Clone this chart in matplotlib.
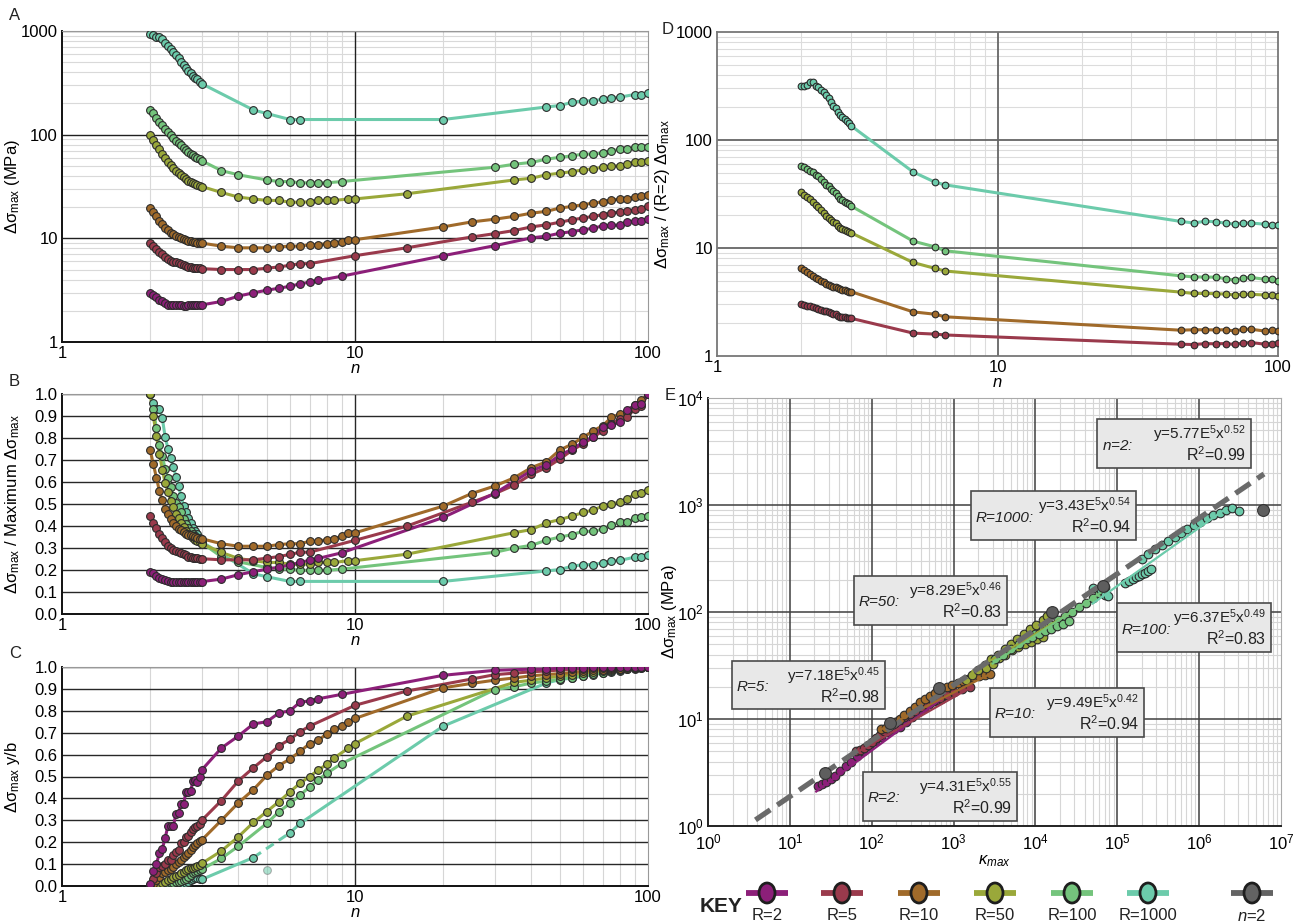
import numpy as np
import matplotlib
matplotlib.use("Agg")
import matplotlib.pyplot as plt
from matplotlib.patches import Rectangle, Ellipse
from matplotlib.ticker import LogLocator, NullFormatter, LogFormatterMathtext

plt.rcParams['font.family'] = ['Liberation Sans', 'DejaVu Sans']
plt.rcParams['mathtext.fontset'] = 'custom'
plt.rcParams['mathtext.rm'] = 'Liberation Sans'
plt.rcParams['mathtext.it'] = 'Liberation Sans:italic'
plt.rcParams['mathtext.bf'] = 'Liberation Sans:bold'

W, H = 1303, 924

SERIES = ['R=2', 'R=5', 'R=10', 'R=50', 'R=100', 'R=1000']
COLORS = ['#8c1f79', '#9a3a4c', '#a06a2a', '#9aa83a', '#74c47c', '#6ccbab']
GREY = '#5e5e5e'

# dense sampling 2 <= n <= 3 (shared by every series)
DENSE_N = [2.0, 2.05, 2.1, 2.15, 2.2, 2.25, 2.3, 2.35, 2.4, 2.45, 2.5,
           2.55, 2.6, 2.65, 2.7, 2.75, 2.8, 2.85, 2.9, 2.95, 3.0]

# ---- panel A : delta sigma max (MPa) ----
A_DENSE_R2 = [2.98, 2.86, 2.70, 2.56, 2.46, 2.38, 2.30, 2.28, 2.27, 2.26, 2.26,
              2.25, 2.24, 2.22, 2.25, 2.27, 2.27, 2.27, 2.27, 2.28, 2.28]
A_DENSE_R5 = [9.0, 8.4, 7.9, 7.4, 7.0, 6.6, 6.3, 6.05, 5.95, 5.85, 5.75,
              5.65, 5.5, 5.4, 5.3, 5.25, 5.2, 5.18, 5.15, 5.12, 5.1]
A_DENSE_R10 = [19.6, 17.9, 16.3, 14.7, 13.6, 12.6, 12.0, 11.3, 10.9, 10.5, 10.2,
               10.0, 9.8, 9.6, 9.5, 9.4, 9.3, 9.2, 9.1, 9.0, 9.0]
A_DENSE_R50 = [99, 89, 80, 72, 65, 59, 55, 51, 48, 45, 43,
               41, 39, 37.5, 36, 35, 34.3, 33.5, 32.8, 32.2, 31.6]
A_DENSE_R100 = [173, 161, 146, 133, 124, 114, 107, 100, 93, 87, 84,
                80, 75, 71, 68, 65, 63, 61, 59, 58, 56]
A_DENSE_R1000 = [945, 905, 880, 880, 840, 760, 710, 668, 630, 590, 548,
                 505, 465, 440, 412, 390, 368, 355, 342, 325, 310]

N_R2 = [3.5, 4, 4.5, 5, 5.5, 6, 6.5, 7, 7.5, 9, 20, 30, 40, 45, 50, 55, 60,
        65, 70, 75, 80, 85, 90, 95, 100]
A_R2 = [2.46, 2.77, 2.98, 3.16, 3.3, 3.45, 3.64, 3.78, 3.92, 4.31, 6.8, 8.5,
        10.1, 10.5, 11.2, 11.6, 12.1, 12.5, 13.2, 13.3, 13.5, 14.4, 14.7, 14.8, 15.5]
N_R5 = [3.5, 4, 4.5, 5, 5.5, 6, 6.5, 7, 10, 15, 25, 30, 35, 40, 45, 50, 55,
        60, 65, 70, 75, 80, 85, 90, 95, 100]
A_R5 = [5.0, 5.0, 5.0, 5.15, 5.3, 5.5, 5.7, 5.7, 6.8, 8.1, 10.3, 11.1, 11.9,
        12.9, 13.5, 14.3, 15.1, 15.7, 16.3, 16.9, 17.5, 18.0, 18.2, 18.9, 19.2, 20.3]
N_R10 = [3.5, 4, 4.5, 5, 5.5, 6, 6.5, 7, 7.5, 8, 8.5, 9, 9.5, 10, 20, 25, 30,
         35, 40, 45, 50, 55, 60, 65, 70, 75, 80, 85, 90, 95, 100]
A_R10 = [8.4, 8.1, 8.1, 8.1, 8.3, 8.4, 8.4, 8.7, 8.7, 8.9, 9.0, 9.3, 9.7, 9.7,
         12.9, 14.4, 15.3, 16.3, 17.5, 18.2, 19.6, 20.3, 21.1, 21.9, 22.5, 23.5,
         23.9, 24.2, 25.0, 25.6, 26.3]
N_R50 = [3.5, 4, 4.5, 5, 5.5, 6, 6.5, 7, 7.5, 8, 8.5, 9.5, 10, 15, 35, 40, 45,
         50, 55, 60, 65, 70, 75, 80, 85, 90, 95, 100]
A_R50 = [27.7, 25, 24, 23.2, 23.2, 22.3, 22.3, 22.5, 23.2, 23.2, 23.2, 24, 24,
         26.9, 36.6, 38, 41, 42.5, 44, 45.7, 46.8, 48.5, 49.6, 50.3, 51.9, 54,
         54.5, 56]
N_R100 = [3.5, 4, 5, 5.5, 6, 6.5, 7, 7.5, 8, 9, 30, 35, 40, 45, 50, 55, 60,
          65, 70, 75, 80, 85, 90, 95, 100]
A_R100 = [45, 41, 36.6, 35.3, 35.3, 34.3, 34.3, 34.3, 34.3, 35.3, 48.5, 51.9,
          54, 58, 60.5, 62.4, 65, 65, 66.7, 70, 72, 72, 75.5, 76, 76.7]
N_R1000 = [4.5, 5, 6, 6.5, 20, 45, 50, 55, 60, 65, 70, 75, 80, 90, 95, 100]
A_R1000 = [173, 160, 140, 140, 140, 185, 191, 205, 212, 212, 220, 227, 230,
           244, 244, 253]

# ---- panel C : delta sigma max y/b ----
C_DENSE_R2 = [0.01, 0.07, 0.10, 0.15, 0.17, 0.22, 0.275, 0.275, 0.275, 0.33, 0.335,
              0.375, 0.375, 0.43, 0.43, 0.435, 0.48, 0.485, 0.475, 0.50, 0.53]
C_DENSE_R5 = [0.005, 0.03, 0.06, 0.085, 0.09, 0.10, 0.12, 0.12, 0.14, 0.155, 0.165,
              0.195, 0.20, 0.225, 0.23, 0.245, 0.26, 0.27, 0.275, 0.285, 0.30]
C_DENSE_R10 = [0.0, 0.01, 0.027, 0.043, 0.058, 0.065, 0.073, 0.078, 0.085, 0.10, 0.108,
               0.118, 0.134, 0.141, 0.149, 0.164, 0.176, 0.187, 0.195, 0.205, 0.21]
C_DENSE_R50 = [0.0, 0.0, 0.002, 0.005, 0.012, 0.02, 0.027, 0.03, 0.04, 0.046, 0.05,
               0.058, 0.065, 0.073, 0.076, 0.08, 0.084, 0.088, 0.092, 0.098, 0.103]
C_DENSE_R100 = [0.0, 0.0, 0.0, 0.0, 0.002, 0.005, 0.008, 0.012, 0.015, 0.018, 0.02,
                0.024, 0.027, 0.03, 0.04, 0.05, 0.06, 0.065, 0.07, 0.073, 0.076]
C_DENSE_R1000 = [0.0, 0.0, 0.0, 0.0, 0.0, 0.0, 0.0, 0.0, 0.0, 0.0, 0.0,
                 0.0, 0.005, 0.012, 0.02, 0.027, 0.03, 0.035, 0.035, 0.033, 0.03]

C_R2 = [0.63, 0.685, 0.74, 0.75, 0.79, 0.80, 0.84, 0.845, 0.855, 0.875, 0.962,
        0.985, 0.99, 0.99, 0.995, 0.995, 0.995, 1.0, 1.0, 1.0, 1.0, 1.0, 1.0, 1.0, 1.0]
C_R5 = [0.39, 0.48, 0.54, 0.59, 0.64, 0.67, 0.705, 0.73, 0.825, 0.89, 0.945,
        0.965, 0.972, 0.978, 0.982, 0.986, 0.99, 0.992, 0.994, 0.996, 0.997,
        0.998, 0.999, 1.0, 1.0, 1.0]
C_R10 = [0.30, 0.38, 0.44, 0.505, 0.55, 0.58, 0.615, 0.65, 0.665, 0.695, 0.715,
         0.73, 0.75, 0.765, 0.905, 0.925, 0.94, 0.95, 0.96, 0.965, 0.97, 0.975,
         0.98, 0.985, 0.988, 0.99, 0.993, 0.995, 0.997, 0.999, 1.0]
C_R50 = [0.16, 0.225, 0.29, 0.34, 0.385, 0.43, 0.47, 0.50, 0.53, 0.555, 0.585,
         0.63, 0.65, 0.775, 0.93, 0.94, 0.95, 0.958, 0.965, 0.972, 0.978, 0.983,
         0.987, 0.99, 0.993, 0.996, 0.998, 1.0]
C_R100 = [0.126, 0.182, 0.286, 0.339, 0.377, 0.415, 0.453, 0.486, 0.514, 0.559,
          0.897, 0.91, 0.927, 0.935, 0.945, 0.952, 0.96, 0.967, 0.973, 0.98,
          0.985, 0.99, 0.994, 0.997, 1.0]
C_R1000 = [0.13, 0.073, 0.243, 0.286, 0.73, 0.927, 0.942, 0.95, 0.958, 0.965,
           0.972, 0.978, 0.984, 0.993, 0.997, 1.0]
C_OUTLIER_N = 5  # faded R=1000 point in panel C

# panel D uses only the n where R=2 was also sampled at the same step
D_N = DENSE_N + [5, 6, 6.5, 45, 50, 55, 60, 65, 70, 75, 80, 90, 95, 100]

# ---- panel E : delta sigma max vs kappa max ----
E_K_R2 = [22, 25, 28, 32, 36, 41, 48, 56, 66, 78, 92, 110, 130, 155, 185, 220,
          260, 310, 370, 430, 500, 580, 650, 710]
E_S_R2 = [2.35, 2.45, 2.6, 2.75, 2.95, 3.3, 3.65, 4.0, 4.5, 5.0, 5.6, 6.2, 6.8,
          7.5, 8.0, 8.5, 9.4, 10.4, 11.6, 12.8, 13.9, 14.6, 15.1, 15.5]
E_K_R5 = [65, 72, 80, 90, 100, 112, 125, 140, 160, 185, 215, 250, 290, 340, 400,
          470, 560, 680, 820, 1000, 1250, 1580]
E_S_R5 = [5.0, 5.1, 5.4, 5.7, 6.1, 6.6, 7.1, 7.7, 8.3, 9.0, 9.8, 10.5, 11.2,
          12.0, 12.9, 13.9, 14.8, 15.7, 16.8, 17.8, 18.9, 20.0]
E_K_R10 = [130, 150, 170, 195, 220, 250, 290, 340, 390, 450, 520, 600, 700, 820,
           960, 1120, 1300, 1500, 1750, 2050, 2400, 2750]
E_S_R10 = [8.0, 8.3, 8.8, 9.4, 10.0, 10.8, 11.8, 13.0, 14.3, 15.4, 16.5, 17.5,
           18.6, 19.7, 20.8, 21.8, 22.8, 23.7, 24.5, 25.2, 25.9, 26.5]
E_K_R50 = [1400, 1700, 2000, 2400, 2900, 3500, 4200, 5000, 6000, 7200, 8600,
           10300, 12300, 14000, 2500, 3000, 3600, 4300, 5200, 6200, 7400, 8800,
           10500, 12500]
E_S_R50 = [23, 26, 29, 32, 36, 40, 45, 50, 56, 62, 69, 76, 84, 92, 30, 33, 37,
           40, 44, 47, 50, 53, 56, 59]
E_K_R100 = [3200, 4000, 5000, 6300, 8000, 10000, 12500, 15500, 19000, 23000,
            28000, 34000, 41000, 50000, 60000, 70000, 9000, 11000, 13000, 15500,
            18500, 22000, 26000]
E_S_R100 = [36, 40, 45, 50, 56, 62, 69, 76, 84, 92, 101, 111, 122, 135, 152, 170,
            58, 62, 66, 70, 74, 78, 82]
E_K_R1000 = [200000, 240000, 290000, 350000, 420000, 500000, 600000, 720000,
             860000, 1030000, 1230000, 1480000, 1780000, 2100000, 2500000,
             3100000, 125000, 140000, 155000, 170000, 185000, 200000, 220000,
             240000, 260000, 50000, 64000, 70000, 78000]
E_S_R1000 = [315, 350, 385, 420, 460, 505, 550, 600, 650, 700, 750, 800, 850,
             900, 930, 870, 188, 195, 205, 212, 218, 225, 232, 242, 254, 166, 160,
             145, 140]
# n = 2 points and its power-law fit
E_K_N2 = [27, 168, 660, 16000, 66000, 6.0e6]
E_S_N2 = [3.1, 9.2, 19.6, 100, 176, 900]
E_FIT_N2_K = [3.8, 6.2e6]
E_FIT_N2_S = [1.14, 1950]
# per-R fit lines (end points)
E_FIT_K = [[21, 680], [70, 1580], [130, 2700], [1700, 26000], [3000, 70000], [50000, 2.15e6]]
E_FIT_S = [[2.1, 15], [5.0, 19.5], [8.0, 26], [28, 97], [33, 160], [120, 930]]

BOX_LABELS = [r'$n$=2:', 'R=1000:', 'R=50:', 'R=100:', 'R=5:', 'R=10:', 'R=2:']
BOX_EQS = [r'y=5.77E$^5$x$^{0.52}$', r'y=3.43E$^5$x$^{0.54}$', r'y=8.29E$^5$x$^{0.46}$',
           r'y=6.37E$^5$x$^{0.49}$', r'y=7.18E$^5$x$^{0.45}$', r'y=9.49E$^5$x$^{0.42}$',
           r'y=4.31E$^5$x$^{0.55}$']
BOX_R2 = ['0.99', '0.94', '0.83', '0.83', '0.98', '0.94', '0.99']

a_dense = [A_DENSE_R2, A_DENSE_R5, A_DENSE_R10, A_DENSE_R50, A_DENSE_R100, A_DENSE_R1000]
a_sparse = [A_R2, A_R5, A_R10, A_R50, A_R100, A_R1000]
n_sparse = [N_R2, N_R5, N_R10, N_R50, N_R100, N_R1000]
c_dense = [C_DENSE_R2, C_DENSE_R5, C_DENSE_R10, C_DENSE_R50, C_DENSE_R100, C_DENSE_R1000]
c_sparse = [C_R2, C_R5, C_R10, C_R50, C_R100, C_R1000]
e_k = [E_K_R2, E_K_R5, E_K_R10, E_K_R50, E_K_R100, E_K_R1000]
e_s = [E_S_R2, E_S_R5, E_S_R10, E_S_R50, E_S_R100, E_S_R1000]

n_all = [np.array(DENSE_N + ns) for ns in n_sparse]
a_all = [np.array(d + s) for d, s in zip(a_dense, a_sparse)]
c_all = [np.array(d + s) for d, s in zip(c_dense, c_sparse)]

FS = 12


def axes_px(left, top, right, bottom):
    return fig.add_axes([left / W, 1 - bottom / H, (right - left) / W, (bottom - top) / H])


def major_lines(ax, xs=(), ys=(), color='#202020', lw=1.0):
    # drawn as artists so the light minor grid never cuts through them
    for x in xs:
        ax.axvline(x, color=color, lw=lw, zorder=1)
    for y in ys:
        ax.axhline(y, color=color, lw=lw, zorder=1)


def n_axis(ax):
    ax.set_xscale('log')
    ax.set_xlim(1, 100)
    ax.set_xticks([1, 10, 100])
    ax.set_xticklabels(['1', '10', '100'])
    ax.xaxis.set_minor_locator(LogLocator(base=10, subs=np.arange(2, 10)))
    ax.xaxis.set_minor_formatter(NullFormatter())
    ax.tick_params(which='both', length=0, labelsize=FS, pad=3)
    ax.set_xlabel('n', style='italic', fontsize=FS, labelpad=0)
    ax.set_axisbelow(True)


def log_y(ax):
    ax.set_yscale('log')
    ax.set_ylim(1, 1000)
    ax.set_yticks([1, 10, 100, 1000])
    ax.set_yticklabels(['1', '10', '100', '1000'])
    ax.yaxis.set_minor_locator(LogLocator(base=10, subs=np.arange(2, 10)))
    ax.yaxis.set_minor_formatter(NullFormatter())


def frac_axis(ax):
    ax.set_ylim(0, 1.0)
    ax.set_yticks(np.arange(0, 1.01, 0.1))
    ax.set_yticklabels(['%.1f' % v for v in np.arange(0, 1.01, 0.1)])
    ax.grid(which='minor', axis='x', color='#d6d6d6', lw=0.8)
    major_lines(ax, xs=[10], ys=np.arange(0.1, 1.01, 0.1), color='#282828')


def spines(ax, dark='#111111', light='#999999'):
    ax.spines['left'].set_color(dark)
    ax.spines['bottom'].set_color(dark)
    ax.spines['left'].set_linewidth(1.4)
    ax.spines['bottom'].set_linewidth(1.4)
    ax.spines['top'].set_color(light)
    ax.spines['right'].set_color(light)


MK = dict(marker='o', ms=5.6, mec='#2b2b2b', mew=0.8, ls='none', zorder=4)

fig = plt.figure(figsize=(W / 100, H / 100), dpi=100)

# ---------------- A ----------------
axA = axes_px(62, 31, 648, 342)
n_axis(axA)
log_y(axA)
axA.grid(which='minor', color='#d9d9d9', lw=0.8)
major_lines(axA, xs=[10], ys=[10, 100], color='#202020')
major_lines(axA, ys=[1000], color='#555555')
spines(axA)
for i in range(5, -1, -1):
    axA.plot(n_all[i], a_all[i], color=COLORS[i], lw=2.2, zorder=3)
    axA.plot(n_all[i], a_all[i], mfc=COLORS[i], **MK)
axA.set_ylabel(r'Δσ$_{\mathrm{max}}$ (MPa)', fontsize=FS)
axA.yaxis.set_label_coords(-0.068, 0.5)

# ---------------- B ----------------
axB = axes_px(62, 394, 648, 614)
n_axis(axB)
frac_axis(axB)
spines(axB)
for i in range(5, -1, -1):
    b = a_all[i] / a_all[i].max()
    axB.plot(n_all[i], b, color=COLORS[i], lw=2.2, zorder=3)
    axB.plot(n_all[i], b, mfc=COLORS[i], **MK)
axB.set_ylabel(r'Δσ$_{\mathrm{max}}$ / Maximum Δσ$_{\mathrm{max}}$', fontsize=FS)
axB.yaxis.set_label_coords(-0.068, 0.5)

# ---------------- C ----------------
axC = axes_px(62, 667, 648, 886)
n_axis(axC)
frac_axis(axC)
spines(axC)
for i in range(5, -1, -1):
    nn, cc = n_all[i], c_all[i]
    if SERIES[i] == 'R=1000':
        out = nn == C_OUTLIER_N
        keep = ~out
        nk, ck = nn[keep], cc[keep]
        lo = nk <= 4.5
        mid = (nk >= 4.5) & (nk <= 6)
        hi = nk >= 6
        axC.plot(nk[lo], ck[lo], color=COLORS[i], lw=2.2, zorder=3)
        axC.plot(nk[mid], ck[mid], color=COLORS[i], lw=2.2, ls=(0, (3, 2)), zorder=3)
        axC.plot(nk[hi], ck[hi], color=COLORS[i], lw=2.2, zorder=3)
        axC.plot(nk, ck, mfc=COLORS[i], **MK)
        axC.plot(nn[out], cc[out], marker='o', ms=5.6, mfc=COLORS[i], mec='#777777',
                 mew=0.8, ls='none', alpha=0.55, zorder=4)
    else:
        axC.plot(nn, cc, color=COLORS[i], lw=2.2, zorder=3)
        axC.plot(nn, cc, mfc=COLORS[i], **MK)
axC.set_ylabel(r'Δσ$_{\mathrm{max}}$ y/b', fontsize=FS)
axC.yaxis.set_label_coords(-0.068, 0.5)

# ---------------- D ----------------
axD = axes_px(717, 32, 1278, 356)
n_axis(axD)
log_y(axD)
axD.grid(which='minor', color='#dcdcdc', lw=0.8)
major_lines(axD, xs=[10], ys=[10, 100], color='#666666', lw=1.3)
for s in axD.spines.values():
    s.set_color('#777777')
    s.set_linewidth(1.3)
base = dict(zip(n_all[0].tolist(), a_all[0].tolist()))
for i in range(5, 0, -1):
    lookup = dict(zip(n_all[i].tolist(), a_all[i].tolist()))
    nd = [n for n in D_N if n in lookup and n in base]
    dv = [lookup[n] / base[n] for n in nd]
    axD.plot(nd, dv, color=COLORS[i], lw=2.2, zorder=3)
    axD.plot(nd, dv, marker='o', ms=4.8, mfc=COLORS[i], mec='#2b2b2b', mew=0.8,
             ls='none', zorder=4)
axD.set_ylabel(r'Δσ$_{\mathrm{max}}$ / (R=2) Δσ$_{\mathrm{max}}$', fontsize=FS)
axD.yaxis.set_label_coords(-0.080, 0.5)

# ---------------- E ----------------
axE = axes_px(708, 398, 1281, 826)
axE.set_xscale('log')
axE.set_yscale('log')
axE.set_xlim(1, 1e7)
axE.set_ylim(1, 1e4)
for axis in (axE.xaxis, axE.yaxis):
    axis.set_major_locator(LogLocator(base=10, numticks=20))
    axis.set_major_formatter(LogFormatterMathtext())
    axis.set_minor_locator(LogLocator(base=10, subs=np.arange(2, 10), numticks=20))
    axis.set_minor_formatter(NullFormatter())
axE.tick_params(which='both', length=0, labelsize=FS, pad=3)
axE.tick_params(axis='x', pad=5)
axE.grid(which='minor', color='#d6d6d6', lw=0.8)
axE.set_axisbelow(True)
major_lines(axE, xs=[1e1, 1e2, 1e3, 1e4, 1e5, 1e6], ys=[1e1, 1e2, 1e3],
            color='#3f3f3f', lw=1.1)
spines(axE, dark='#222222', light='#aaaaaa')
for i in range(6):
    axE.plot(e_k[i], e_s[i], marker='o', ms=6.2, mfc=COLORS[i], mec='#2b2b2b',
             mew=0.8, ls='none', zorder=3)
for i in range(6):
    axE.plot(E_FIT_K[i], E_FIT_S[i], color=COLORS[i], lw=1.6, zorder=4)
axE.plot(E_FIT_N2_K, E_FIT_N2_S, color='#6a6a6a', lw=3.8, dashes=(3.4, 1.6), zorder=5)
axE.plot(E_K_N2, E_S_N2, marker='o', ms=8.5, mfc=GREY, mec='#333333', mew=0.8,
         ls='none', zorder=6)
axE.set_ylabel(r'Δσ$_{\mathrm{max}}$ (MPa)', fontsize=FS)
axE.yaxis.set_label_coords(-0.050, 0.5)
axE.set_xlabel(r'$\kappa_{max}$', fontsize=FS, labelpad=0)

# ---------------- overlay: letters, boxes, key ----------------
ov = fig.add_axes([0, 0, 1, 1])
ov.set_xlim(0, W)
ov.set_ylim(H, 0)
ov.axis('off')
ov.patch.set_alpha(0)

for lab, x, y in [('A', 9, 15), ('B', 9, 382), ('C', 9, 654), ('D', 662, 30), ('E', 665, 396)]:
    ov.text(x, y, lab, fontsize=12, ha='left', va='center', color='#222222')

BOX_PX = [(1097, 419, 1251, 468), (971, 491, 1136, 540), (854, 576, 1007, 625),
          (1117, 603, 1271, 652), (732, 661, 885, 709), (990, 688, 1144, 737),
          (863, 772, 1017, 821)]
for (x0, y0, x1, y1), lab, eq, r2 in zip(BOX_PX, BOX_LABELS, BOX_EQS, BOX_R2):
    ov.add_patch(Rectangle((x0, y0), x1 - x0, y1 - y0, facecolor='#e8e8e8',
                           edgecolor='#4a4a4a', lw=1.2, zorder=10))
    ov.text(x0 + 5, (y0 + y1) / 2 + 2, lab, fontsize=11, style='italic',
            ha='left', va='center', zorder=11, color='#222222')
    ov.text(x1 - 5, y0 + 15, eq, fontsize=11, ha='right', va='center', zorder=11,
            color='#222222')
    ov.text(x1 - 5, y0 + 36, r'R$^2$=' + r2, fontsize=11.5, ha='right', va='center',
            zorder=11, color='#222222')

# key
ov.text(700, 907, 'KEY', fontsize=15, fontweight='bold', ha='left', va='center',
        color='#222222')
KEY_X = [767, 842, 919, 995, 1072, 1148, 1252]
key_cols = COLORS + ['#636363']
key_labs = SERIES + ['n=2']
for x, col, lab in zip(KEY_X, key_cols, key_labs):
    ov.plot([x - 21, x + 21], [893, 893], color=col, lw=4.2, solid_capstyle='butt')
    ov.add_patch(Ellipse((x, 893), 16, 20, facecolor=col, edgecolor='#1e1e1e', lw=2.0,
                         zorder=5))
    if lab == 'n=2':
        ov.text(x, 916, r'$n$=2', fontsize=FS, ha='center', va='center', color='#222222')
    else:
        ov.text(x, 916, lab, fontsize=FS, ha='center', va='center', color='#222222')

fig.savefig('out.png', dpi=100)
